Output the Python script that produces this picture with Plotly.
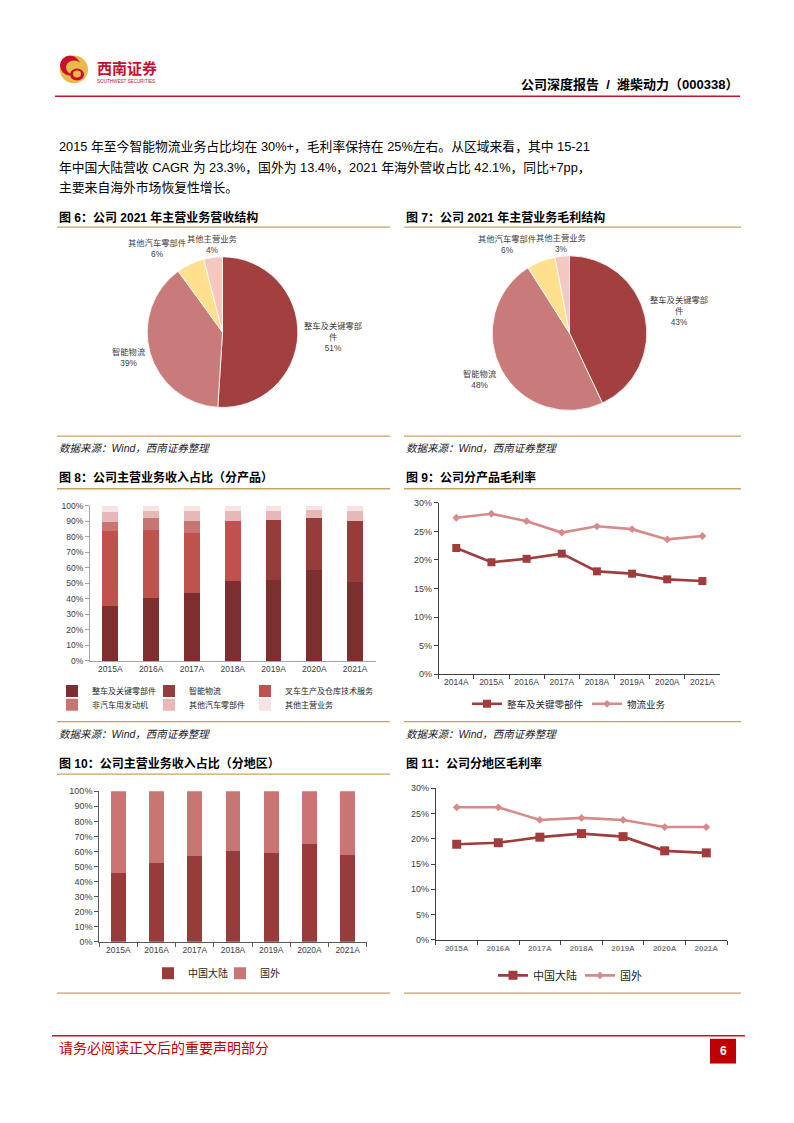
import plotly.graph_objects as go

W, H = 794, 1123
OFF = 8  # the page body adds an 8px margin around the plot div
def X(p): return (p - OFF) / W
def Y(p): return 1 - (p - OFF) / H

FONT = "Liberation Sans, Noto Sans CJK SC, sans-serif"

# ---------------- data ----------------
pie_labels = ["整车及关键零部件", "智能物流", "其他汽车零部件", "其他主营业务"]
pie6_values = [51, 39, 6, 4]
pie7_values = [43, 48, 6, 3]
pie_colors = ["#a2403f", "#c97b79", "#fee08f", "#f4c8bf"]

years8 = ["2015A", "2016A", "2017A", "2018A", "2019A", "2020A", "2021A"]
s8_names = ["整车及关键零部件", "智能物流", "叉车生产及仓库技术服务",
            "非汽车用发动机", "其他汽车零部件", "其他主营业务"]
s8_vehicle = [35.5, 40.2, 43.8, 51.7, 51.9, 58.5, 51.1]
s8_logistics = [0, 0, 0, 0, 39.0, 33.4, 38.9]
s8_forklift = [48.1, 44.1, 38.5, 38.3, 0, 0, 0]
s8_nonauto = [5.7, 7.6, 7.7, 0, 0, 0, 0]
s8_otherauto = [6.3, 4.9, 6.4, 6.6, 5.9, 5.3, 6.2]
s8_other = [4.4, 3.2, 3.6, 3.4, 3.2, 2.8, 3.8]
s8_colors = ["#7d2f2f", "#983c3b", "#c0524e", "#c87472", "#e6b9b8", "#f6e4e3"]

years9 = ["2014A", "2015A", "2016A", "2017A", "2018A", "2019A", "2020A", "2021A"]
gm_vehicle = [22.1, 19.6, 20.2, 21.1, 18.0, 17.6, 16.6, 16.3]
gm_logistics = [27.4, 28.1, 26.8, 24.8, 25.9, 25.4, 23.6, 24.2]
s9_names = ["整车及关键零部件", "物流业务"]

years10 = ["2015A", "2016A", "2017A", "2018A", "2019A", "2020A", "2021A"]
rev_china = [45.7, 52.3, 56.9, 60.0, 59.1, 64.9, 57.9]
rev_overseas = [54.3, 47.7, 43.1, 40.0, 40.9, 35.1, 42.1]
region_names = ["中国大陆", "国外"]

years11 = ["2015A", "2016A", "2017A", "2018A", "2019A", "2020A", "2021A"]
gm_china = [18.9, 19.2, 20.3, 21.0, 20.4, 17.6, 17.2]
gm_overseas = [26.2, 26.2, 23.7, 24.1, 23.7, 22.3, 22.3]

dark_line = "#a03c3c"
light_line = "#d68a89"

fig = go.Figure()

# ---------------- pies ----------------
def pie(values, cx, cy, r):
    return go.Pie(labels=pie_labels, values=values, sort=False, direction="clockwise",
                  rotation=0, textinfo="none", showlegend=False,
                  marker=dict(colors=pie_colors, line=dict(color="white", width=0.8)),
                  domain=dict(x=[X(cx - r), X(cx + r)], y=[Y(cy + r), Y(cy - r)]))

fig.add_trace(pie(pie6_values, 222.5, 330, 76))
fig.add_trace(pie(pie7_values, 569.5, 331, 78))

# ---------------- chart 8 stacked bars ----------------
s8_series = [s8_vehicle, s8_logistics, s8_forklift, s8_nonauto, s8_otherauto, s8_other]
for i, (nm, vals, col) in enumerate(zip(s8_names, s8_series, s8_colors)):
    fig.add_trace(go.Bar(x=years8, y=vals, name=nm, marker=dict(color=col, line=dict(width=0)),
                         xaxis="x", yaxis="y", legend="legend" if i == 0 else f"legend{i+1}"))

# ---------------- chart 9 lines ----------------
fig.add_trace(go.Scatter(x=years9, y=gm_vehicle, name=s9_names[0], mode="lines+markers",
                         line=dict(color=dark_line, width=2.6),
                         marker=dict(symbol="square", size=8, color=dark_line),
                         xaxis="x2", yaxis="y2", legend="legend7"))
fig.add_trace(go.Scatter(x=years9, y=gm_logistics, name=s9_names[1], mode="lines+markers",
                         line=dict(color=light_line, width=2.6),
                         marker=dict(symbol="diamond", size=6, color=light_line),
                         xaxis="x2", yaxis="y2", legend="legend8"))

# ---------------- chart 10 stacked bars ----------------
fig.add_trace(go.Bar(x=years10, y=rev_china, name=region_names[0],
                     marker=dict(color="#983c3b", line=dict(width=0)),
                     xaxis="x3", yaxis="y3", legend="legend9"))
fig.add_trace(go.Bar(x=years10, y=rev_overseas, name=region_names[1],
                     marker=dict(color="#c87573", line=dict(width=0)),
                     xaxis="x3", yaxis="y3", legend="legend10"))

# ---------------- chart 11 lines ----------------
fig.add_trace(go.Scatter(x=years11, y=gm_china, name=region_names[0], mode="lines+markers",
                         line=dict(color=dark_line, width=2.6),
                         marker=dict(symbol="square", size=9, color=dark_line),
                         xaxis="x4", yaxis="y4", legend="legend11"))
fig.add_trace(go.Scatter(x=years11, y=gm_overseas, name=region_names[1], mode="lines+markers",
                         line=dict(color=light_line, width=2.6),
                         marker=dict(symbol="diamond", size=6, color=light_line),
                         xaxis="x4", yaxis="y4", legend="legend12"))

# ---------------- axes ----------------
tick_col = "#404040"
def xax(x0, x1, n, linecol, size=8.5, bounds=True, bold=False, col=tick_col):
    d = dict(domain=[X(x0), X(x1)], type="category", range=[-0.5, n - 0.5],
             showline=True, linecolor=linecol, linewidth=1, showgrid=False, zeroline=False,
             tickfont=dict(size=size, color=col, weight="bold" if bold else "normal"),
             fixedrange=True)
    if bounds:
        d.update(ticks="outside", tickson="boundaries", ticklen=4, tickcolor=linecol)
    else:
        d.update(ticks="")
    return d

def yax(y0, y1, top, step, linecol, size=8.5):
    return dict(domain=[Y(y0), Y(y1)], range=[0, top], tickmode="linear", tick0=0, dtick=step,
                ticksuffix="%", showline=True, linecolor=linecol, linewidth=1,
                ticks="outside", ticklen=4, tickcolor=linecol, showgrid=False, zeroline=False,
                tickfont=dict(size=size, color=tick_col), fixedrange=True)

layout_axes = dict(
    xaxis=dict(xax(90, 375.5, 7, "#a6a6a6", bounds=False), anchor="y"),
    yaxis=dict(yax(661.7, 505, 100, 10, "#a6a6a6"), anchor="x"),
    xaxis2=dict(xax(438.7, 720, 8, "#404040"), anchor="y2"),
    yaxis2=dict(yax(675, 502.3, 30, 5, "#404040", size=9), anchor="x2"),
    xaxis3=dict(xax(99.2, 366.8, 7, "#595959"), anchor="y3"),
    yaxis3=dict(yax(945, 793.3, 100, 10, "#595959", size=9), anchor="x3"),
    xaxis4=dict(xax(435.9, 727.1, 7, "#404040", size=8, bold=True, col="#7f7f7f"), anchor="y4"),
    yaxis4=dict(yax(943.3, 790, 30, 5, "#404040", size=9), anchor="x4"),
)

# ---------------- legends (one per entry) ----------------
def leg(left, cy, size):
    return dict(x=X(left), y=Y(cy), xanchor="left", yanchor="middle", orientation="h",
                bgcolor="rgba(0,0,0,0)", borderwidth=0,
                font=dict(size=size, color="#262626", family=FONT))

legends = {
    "legend": leg(52, 692, 8), "legend2": leg(149, 692, 8), "legend3": leg(245, 692, 8),
    "legend4": leg(52, 706, 8), "legend5": leg(149, 706, 8), "legend6": leg(245, 706, 8),
    "legend7": leg(467, 705, 9.5), "legend8": leg(587, 705, 9.5),
    "legend9": leg(148, 977, 10), "legend10": leg(220, 977, 10),
    "legend11": leg(493, 979, 11), "legend12": leg(580, 979, 11),
}

# ---------------- annotations / text ----------------
ann = []
def text(x, y, s, size, color="#000000", bold=False, italic=False, xanchor="left",
         yanchor="middle", align="left"):
    ann.append(dict(x=X(x), y=Y(y), xref="paper", yref="paper", text=s, showarrow=False,
                    xanchor=xanchor, yanchor=yanchor, align=align,
                    font=dict(size=size, color=color, family=FONT,
                              weight="bold" if bold else "normal",
                              style="italic" if italic else "normal")))

# header
text(95, 64, "西南证券", 15, "#c8102e", bold=True)
text(95, 77, "SOUTHWEST SECURITIES", 4.6, "#c8102e")
text(740, 80, "公司深度报告  /  潍柴动力（000338）", 13, bold=True, xanchor="right")

# paragraph
para = ["2015 年至今智能物流业务占比均在 30%+，毛利率保持在 25%左右。从区域来看，其中 15-21",
        "年中国大陆营收 CAGR 为 23.3%，国外为 13.4%，2021 年海外营收占比 42.1%，同比+7pp，",
        "主要来自海外市场恢复性增长。"]
for s, yy in zip(para, [143, 163.5, 184]):
    text(57, yy, s, 12.8)

# titles
text(57, 214, "图 6：公司 2021 年主营业务营收结构", 12, bold=True)
text(404, 214, "图 7：公司 2021 年主营业务毛利结构", 12, bold=True)
text(57, 477, "图 8：公司主营业务收入占比（分产品）", 12, bold=True)
text(404, 477, "图 9：公司分产品毛利率", 12, bold=True)
text(57, 765, "图 10：公司主营业务收入占比（分地区）", 12, bold=True)
text(404, 765, "图 11：公司分地区毛利率", 12, bold=True)

# sources
for sx, sy in [(57, 447), (404, 447), (57, 735), (404, 735)]:
    text(sx, sy, "数据来源：Wind，西南证券整理", 10.5, "#222222", italic=True)

# pie labels
def wrap(s):
    return s[:7] + "<br>" + s[7:] if len(s) > 7 else s

pie6_pos = [(333, 335), (128, 356), (157, 245.5), (212, 242)]
pie7_pos = [(679, 309), (480, 377.5), (507, 241.5), (561, 240.5)]
for vals, pos in [(pie6_values, pie6_pos), (pie7_values, pie7_pos)]:
    for nm, v, (px, py) in zip(pie_labels, vals, pos):
        text(px, py, f"{wrap(nm)}<br>{v}%", 8.3, "#404040", xanchor="center", align="center")

# footer
text(57, 1052, "请务必阅读正文后的重要声明部分", 14, "#c00000")
text(723, 1055, "6", 12, "#ffffff", bold=True, xanchor="center")

# ---------------- shapes ----------------
shapes = []
def hline(x0, x1, y, color, width):
    shapes.append(dict(type="line", xref="paper", yref="paper", x0=X(x0), x1=X(x1),
                       y0=Y(y), y1=Y(y), line=dict(color=color, width=width)))

gold = "#c9a25d"
red = "#c8102e"
hline(55, 740, 92, red, 1.3)
hline(52, 745, 1040, red, 1.5)
for y in [224, 435, 488, 723, 776, 997]:
    hline(57, 390, y, gold, 1.3)
for y in [224, 435, 488, 723, 997]:
    hline(404, 741, y, gold, 1.3)

# logo
def circ(x0, x1, y0, y1, color):
    shapes.append(dict(type="circle", xref="paper", yref="paper", x0=X(x0), x1=X(x1),
                       y0=Y(y1), y1=Y(y0), fillcolor=color, line=dict(width=0)))

circ(60, 88, 51, 79, "#e9b949")
circ(60, 80, 51, 71, red)
circ(66, 82, 56, 70, "#e9b949")
circ(70, 84, 64, 76, red)
circ(73, 81, 66, 73, "#e9b949")
# page number box
shapes.append(dict(type="rect", xref="paper", yref="paper", x0=X(710), x1=X(736),
                   y0=Y(1068), y1=Y(1043), fillcolor="#c00000", line=dict(width=0)))

fig.update_layout(
    width=W, height=H, margin=dict(l=0, r=0, t=0, b=0),
    paper_bgcolor="white", plot_bgcolor="white",
    font=dict(family=FONT, color="#262626"),
    barmode="stack", bargap=0.61,
    annotations=ann, shapes=shapes,
    **layout_axes, **legends,
)

fig.write_html("out.html")
